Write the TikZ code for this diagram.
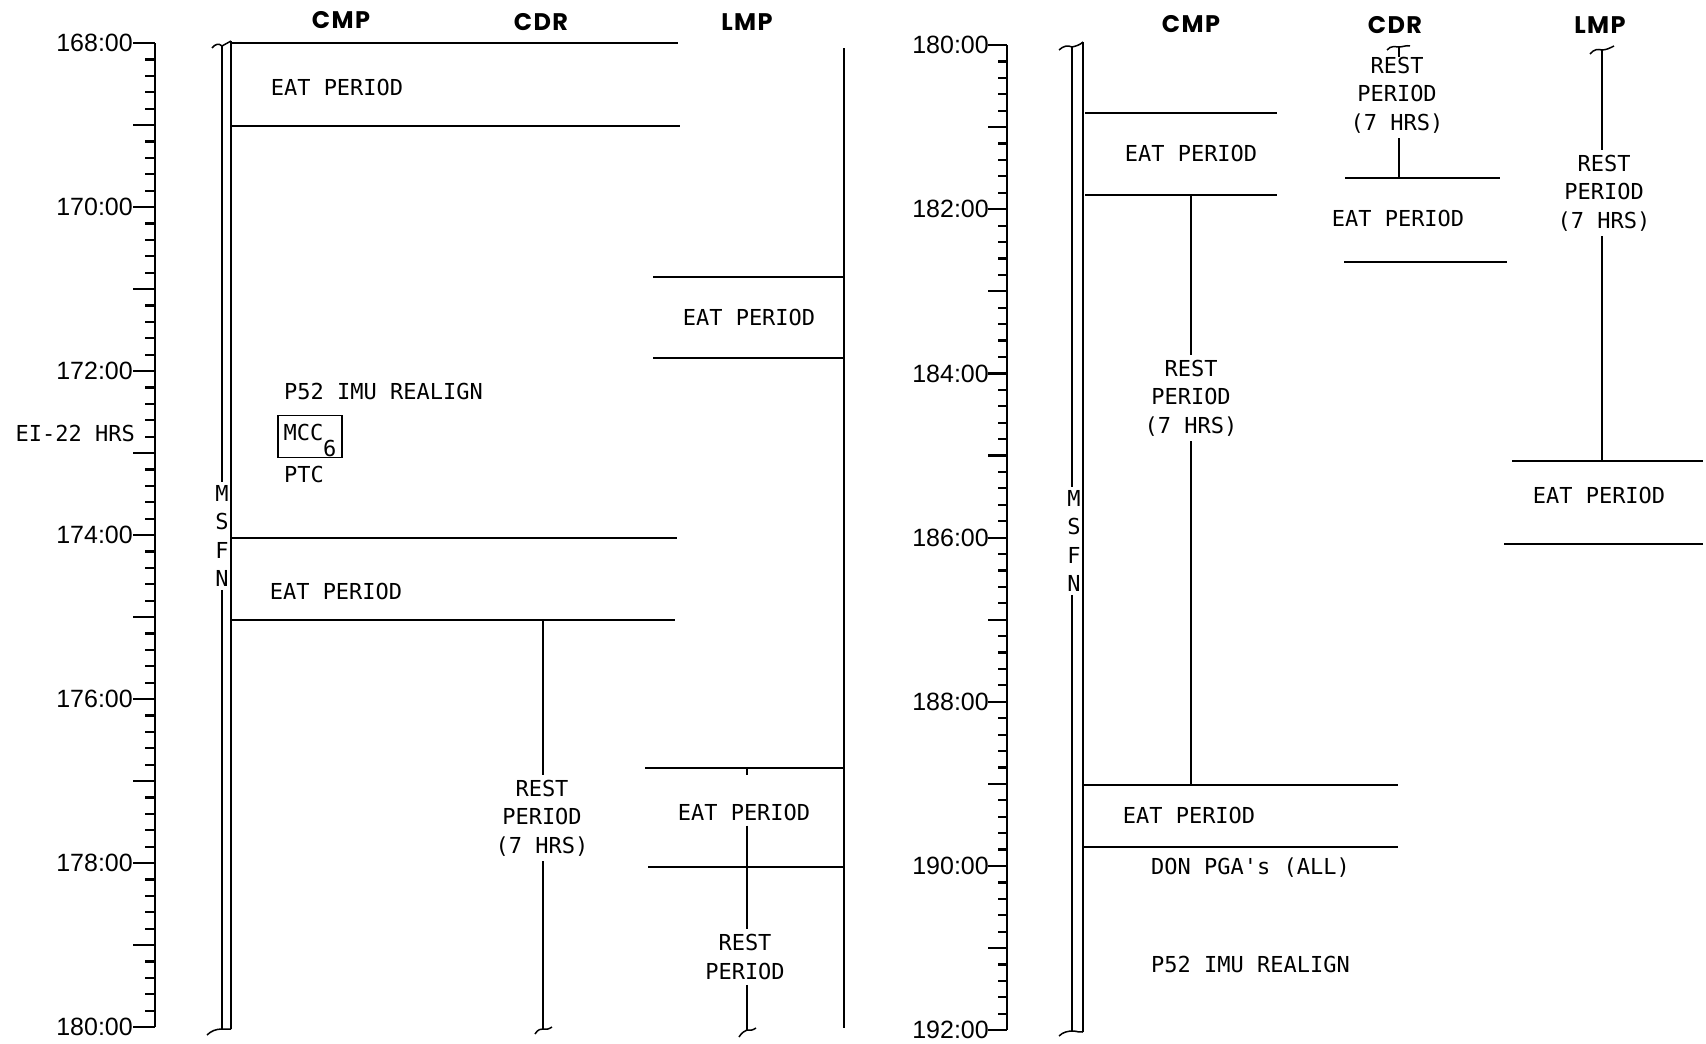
\documentclass[tikz,border=0pt]{standalone}
\usepackage{fontspec}
\newfontfamily\tw{DejaVu Sans Mono}
\newfontfamily\hd{Poppins}[LetterSpace=6]
\newfontfamily\ax{Liberation Sans}
\begin{document}
\begin{tikzpicture}[x=1pt,y=-1pt,
  every node/.style={inner sep=0pt},
  txt/.style={font=\tw\fontsize{22}{28.5}\selectfont, align=center, inner sep=5pt},
  hdr/.style={font=\hd\bfseries\fontsize{24}{28}\selectfont},
  axl/.style={font=\ax\fontsize{25}{28}\selectfont, anchor=east},
  ln/.style={line width=1.8pt},
  axisln/.style={line width=2.6pt},
  tk/.style={line width=2.2pt},
  msfn/.style={line width=1.8pt},
  brk/.style={line width=1.5pt},
]
\useasboundingbox (0,0) rectangle (1706,1044);

% ================= LEFT PANEL =================
% time axis
\coordinate (LA0) at (155,43);
\coordinate (LA1) at (155,1027);
\draw[axisln] (LA0) -- (LA1);
\foreach \i in {0,...,60}{
  \pgfmathsetmacro\yy{43+\i*16.4}
  \pgfmathtruncatemacro\m{mod(\i,5)}
  \ifnum\m=0 \draw[tk] (133,\yy) -- (155,\yy); \else \draw[tk] (145,\yy) -- (155,\yy); \fi
}
\foreach \h [count=\k from 0] in {168,170,...,180}{
  \node[axl] (T\h) at (133,{43+\k*164}) {\h:00};
}
\node[txt, anchor=east, inner sep=0pt] (ei) at (135,433) {EI-22 HRS};

% headers
\node[hdr] (hCMP) at (341,20) {CMP};
\node[hdr] (hCDR) at (541,22) {CDR};
\node[hdr] (hLMP) at (747,22) {LMP};

% MSFN double line
\coordinate (m1t) at (222,46);
\coordinate (m1b) at (222,1029);
\coordinate (m2t) at (231,41);
\coordinate (m2b) at (231,1029);
\node[txt, inner sep=3pt] (msfn1) at (222,536) {M\\S\\F\\N};
\draw[msfn] (m1t) -- (m1t |- msfn1.north);
\draw[msfn] (m1t |- msfn1.south) -- (m1b);
\draw[msfn] (m2t) -- (m2b);
\draw[brk] (212,48) .. controls (215,44) and (219,43) .. (m1t) .. controls (225,44) and (228,43) .. (m2t);
\draw[brk] (207,1035) .. controls (211,1031) and (216,1029) .. (m1b) -- (m2b);

% CMP block
\coordinate (c1a) at (231,43);  \coordinate (c1b) at (678,43);
\coordinate (c2a) at (231,126); \coordinate (c2b) at (680,126);
\coordinate (c3a) at (231,538); \coordinate (c3b) at (677,538);
\coordinate (c4a) at (231,620); \coordinate (c4b) at (675,620);
\draw[ln] (c1a) -- (c1b);
\draw[ln] (c2a) -- (c2b);
\draw[ln] (c3a) -- (c3b);
\draw[ln] (c4a) -- (c4b);
\node[txt] (eat1) at (337,87) {EAT PERIOD};
\node[txt] (eat2) at (336,591) {EAT PERIOD};
\node[txt, anchor=west, inner sep=0pt] (p52a) at (284,391) {P52 IMU REALIGN};
\node[draw, line width=1.3pt, minimum width=64pt, minimum height=42pt, font=\tw\fontsize{22}{28}\selectfont] (mcc) at (310,436.5)
  {\raisebox{-4pt}[0pt][0pt]{MCC}\raisebox{-20pt}[0pt][0pt]{6}};
\node[txt, anchor=west, inner sep=0pt] (ptc) at (284,474) {PTC};

% CDR rest
\coordinate (cdrT) at (543,620);
\coordinate (cdrB) at (543,1029);
\node[txt] (cdrR) at (542,818) {REST\\PERIOD\\(7 HRS)};
\draw[ln] (cdrT) -- (cdrT |- cdrR.north);
\draw[ln] (cdrT |- cdrR.south) -- (cdrB);
\draw[brk] (535,1034) .. controls (538,1029) and (541,1029) .. (cdrB) .. controls (546,1030) and (549,1029) .. (552,1027);

% LMP
\coordinate (lmT) at (844,48);
\coordinate (lmB) at (844,1028);
\draw[ln] (lmT) -- (lmB);
\coordinate (l1a) at (653,277); \coordinate (l1b) at (844,277);
\coordinate (l2a) at (653,358); \coordinate (l2b) at (844,358);
\draw[ln] (l1a) -- (l1b);
\draw[ln] (l2a) -- (l2b);
\node[txt] (lmpE1) at (749,317) {EAT PERIOD};
\coordinate (l3a) at (645,768); \coordinate (l3b) at (844,768);
\coordinate (l4a) at (648,867); \coordinate (l4b) at (844,867);
\draw[ln] (l3a) -- (l3b);
\draw[ln] (l4a) -- (l4b);
\coordinate (lrT) at (747,768);
\coordinate (lrB) at (747,1030);
\draw[ln] (lrT) -- ++(0,7);
\node[txt] (lmpE2) at (744,812) {EAT PERIOD};
\node[txt] (lmpR) at (745,957) {REST\\PERIOD};
\draw[ln] (lrB |- lmpE2.south) -- (lrB |- lmpR.north);
\draw[ln] (lrB |- lmpR.south) -- (lrB);
\draw[brk] (739,1037) .. controls (742,1032) and (745,1031) .. (lrB) .. controls (750,1031) and (753,1030) .. (756,1028);

% ================= RIGHT PANEL =================
\coordinate (RA0) at (1007,45);
\coordinate (RA1) at (1007,1030);
\draw[axisln] (RA0) -- (RA1);
\foreach \i in {0,...,60}{
  \pgfmathsetmacro\yy{45+\i*16.42}
  \pgfmathtruncatemacro\m{mod(\i,5)}
  \ifnum\m=0 \draw[tk] (988,\yy) -- (1007,\yy); \else \draw[tk] (998,\yy) -- (1007,\yy); \fi
}
\foreach \h [count=\k from 0] in {180,182,...,192}{
  \node[axl] (R\h) at (989,{45+\k*164.2}) {\h:00};
}

\node[hdr] (rCMP) at (1191,24) {CMP};
\node[hdr] (rCDR) at (1395,25) {CDR};
\node[hdr] (rLMP) at (1600,25) {LMP};

% MSFN double line
\coordinate (n1t) at (1072,47);
\coordinate (n1b) at (1072,1032);
\coordinate (n2t) at (1083,42);
\coordinate (n2b) at (1083,1032);
\node[txt, inner sep=3pt] (msfn2) at (1074,541) {M\\S\\F\\N};
\draw[msfn] (n1t) -- (n1t |- msfn2.north);
\draw[msfn] (n1t |- msfn2.south) -- (n1b);
\draw[msfn] (n2t) -- (n2b);
\draw[brk] (1059,50) .. controls (1063,46) and (1068,45) .. (n1t) .. controls (1076,46) and (1080,45) .. (n2t);
\draw[brk] (1059,1036) .. controls (1063,1032) and (1068,1031) .. (1073,1031) .. controls (1077,1031) and (1080,1033) .. (n2b);

% CMP
\coordinate (r1a) at (1085,113); \coordinate (r1b) at (1277,113);
\coordinate (r2a) at (1085,195); \coordinate (r2b) at (1277,195);
\draw[ln] (r1a) -- (r1b);
\draw[ln] (r2a) -- (r2b);
\node[txt] (reat1) at (1191,153) {EAT PERIOD};
\coordinate (rcT) at (1191,195);
\coordinate (rcB) at (1191,785);
\node[txt] (rcR) at (1191,398) {REST\\PERIOD\\(7 HRS)};
\draw[ln] (rcT) -- (rcT |- rcR.north);
\draw[ln] (rcT |- rcR.south) -- (rcB);
\coordinate (r3a) at (1083,785); \coordinate (r3b) at (1398,785);
\coordinate (r4a) at (1083,847); \coordinate (r4b) at (1398,847);
\draw[ln] (r3a) -- (r3b);
\draw[ln] (r4a) -- (r4b);
\node[txt] (reat2) at (1189,815) {EAT PERIOD};
\node[txt, anchor=west, inner sep=0pt] (don) at (1151,868) {DON PGA's (ALL)};
\node[txt, anchor=west, inner sep=0pt] (p52b) at (1151,964) {P52 IMU REALIGN};

% CDR
\coordinate (rdT) at (1399,47);
\coordinate (rdB) at (1399,178);
\node[txt] (rdR) at (1397,95) {REST\\PERIOD\\(7 HRS)};
\draw[brk] (1387,50) .. controls (1391,45) and (1396,47) .. (rdT) .. controls (1403,47) and (1406,45) .. (1410,46);
\draw[ln] (rdT) -- ++(0,10);
\draw[ln] (rdB |- rdR.south) -- (rdB);
\coordinate (r5a) at (1345,178); \coordinate (r5b) at (1500,178);
\coordinate (r6a) at (1344,262); \coordinate (r6b) at (1507,262);
\draw[ln] (r5a) -- (r5b);
\draw[ln] (r6a) -- (r6b);
\node[txt] (rdE) at (1398,218) {EAT PERIOD};

% LMP
\coordinate (rlT) at (1602,50);
\coordinate (rlB) at (1602,461);
\draw[brk] (1590,54) .. controls (1594,49) and (1598,49) .. (rlT) .. controls (1606,50) and (1610,48) .. (1614,46);
\node[txt] (rlR) at (1604,193) {REST\\PERIOD\\(7 HRS)};
\draw[ln] (rlT) -- (rlT |- rlR.north);
\draw[ln] (rlT |- rlR.south) -- (rlB);
\coordinate (r7a) at (1512,461); \coordinate (r7b) at (1703,461);
\coordinate (r8a) at (1504,544); \coordinate (r8b) at (1703,544);
\draw[ln] (r7a) -- (r7b);
\draw[ln] (r8a) -- (r8b);
\node[txt] (rlE) at (1599,495) {EAT PERIOD};
\end{tikzpicture}
\end{document}
